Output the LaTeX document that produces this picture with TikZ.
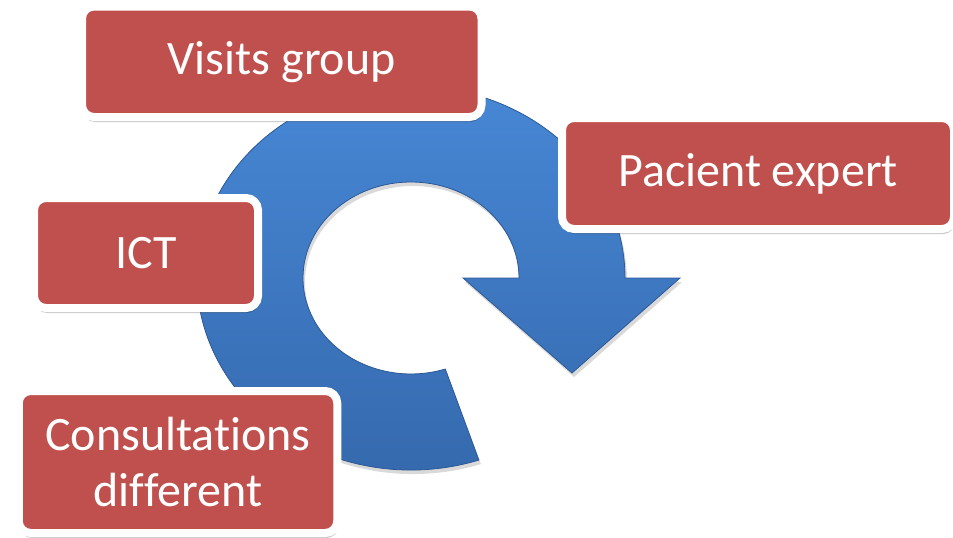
\documentclass[tikz,border=0pt]{standalone}
\usepackage{fontspec}
\setmainfont[Ligatures=NoCommon,RawFeature={-liga;-clig;-dlig}]{Carlito}
\usetikzlibrary{shadows}
\definecolor{boxred}{HTML}{C0504D}
\definecolor{bluetop}{RGB}{72,136,214}
\definecolor{bluebot}{RGB}{52,104,172}
\definecolor{blueedge}{RGB}{44,88,150}
\tikzset{
  card/.style={draw=white, line width=8pt, fill=boxred, rounded corners=12pt,
    text=white, font=\fontsize{48}{56}\selectfont, align=center,
    inner sep=0pt,
    drop shadow={shadow xshift=1pt, shadow yshift=-5pt, opacity=0.22, fill=black}},
  ring/.style={top color=bluetop, bottom color=bluebot, draw=blueedge, line width=0.8pt}
}
\begin{document}
\begin{tikzpicture}[x=1pt,y=1pt]
\useasboundingbox (0,0) rectangle (953,-538);
% circular arrow
\coordinate (c) at (411,-278);
\fill[black, opacity=0.15] ([xshift=2pt,yshift=-4pt]c) ++(-71.5:214 and 192)
  arc[start angle=-71.5, end angle=-360, x radius=214, y radius=192]
  -- ++(55,0) -- ++(-108,-95) -- ++(-109,95) -- ++(56,0)
  arc[start angle=0, end angle=288.5, x radius=108, y radius=96] -- cycle;
\path[ring] (c) ++(-71.5:214 and 192) coordinate (tail)
  arc[start angle=-71.5, end angle=-360, x radius=214, y radius=192]
  -- (680,-278) coordinate (hr) -- (572,-373) coordinate (tip) -- (463,-278) coordinate (hl)
  -- (519,-278)
  arc[start angle=0, end angle=288.5, x radius=108, y radius=96] -- cycle;
% boxes
\node[card, minimum width=399.5pt, minimum height=110.5pt] (visits) at (281.75,-61.75) {\raisebox{-3pt}{Visits group}};
\node[card, minimum width=392pt, minimum height=111pt] (pacient) at (758,-173.5) {\raisebox{-3pt}{Pacient expert}};
\node[card, minimum width=224pt, minimum height=110pt] (ict) at (146,-253) {\raisebox{-3pt}{ICT}};
\node[card, minimum width=318.5pt, minimum height=142pt] (consult) at (178,-462) {Consultations\\different};
\end{tikzpicture}
\end{document}
